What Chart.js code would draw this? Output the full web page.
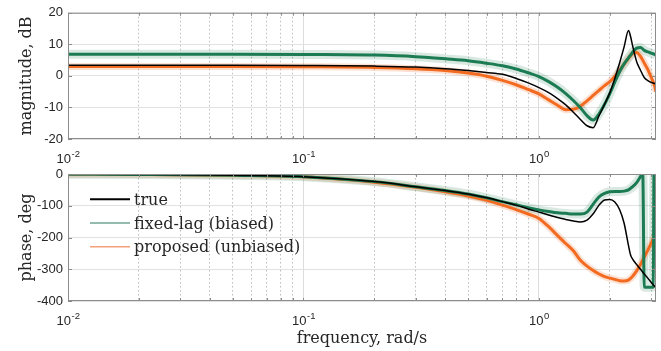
<!DOCTYPE html>
<html>
<head>
<meta charset="utf-8">
<script src="https://cdn.jsdelivr.net/npm/chart.js@4.4.1/dist/chart.umd.min.js"></script>
<style>
  html,body{margin:0;padding:0;background:#fff;}
  #wrap{position:relative;width:661px;height:351px;overflow:hidden;}
  canvas{position:absolute;left:0;}
  #magCanvas{top:0;}
  #phaseCanvas{top:160px;}
</style>
</head>
<body>
<div id="wrap">
  <canvas id="magCanvas" width="661" height="170"></canvas>
  <canvas id="phaseCanvas" width="661" height="191"></canvas>
</div>
<script>
/* ---------- values ---------- */
const freq = [0.01,0.02,0.05,0.1,0.2,0.3,0.4,0.5,0.6,0.7,0.8,0.9,1.0,1.1,1.2,1.3,1.4,1.5,1.6,1.7,1.8,1.9,2.0,2.1,2.2,2.3,2.4,2.45,2.5,2.6,2.7,2.8,2.9,3.0,3.1,3.14];

const magTrue     = [3.4,3.4,3.4,3.3,3.1,2.8,2.3,1.7,1.1,0.5,-0.8,-2.2,-3.7,-5.3,-7.2,-9.2,-11.5,-13.8,-15.8,-16.4,-12.6,-9.0,-5.3,-0.8,4.1,9.2,14.4,12.5,9.5,4.5,1.8,-0.5,-1.5,-2.1,-2.4,-2.5];
const magFixed    = [6.9,6.9,6.9,6.8,6.6,6.1,5.4,4.8,4.0,3.2,2.2,1.0,-0.2,-1.8,-3.6,-5.6,-7.8,-10.1,-12.6,-14.0,-12.0,-9.0,-5.6,-2.0,1.3,3.8,5.7,6.6,7.5,8.8,9.0,8.1,7.6,7.2,6.8,6.6];
const magProposed = [3.0,3.0,3.0,2.9,2.7,2.3,1.7,0.9,-0.1,-1.4,-2.8,-4.3,-5.7,-7.6,-9.3,-10.7,-10.6,-9.6,-7.9,-6.2,-4.6,-3.1,-1.8,-0.2,1.8,3.7,5.6,6.4,7.1,7.4,6.2,4.1,2.0,-0.5,-3.2,-5.0];

const phaseTrue     = [-0.8,-1.6,-4,-8.5,-24,-40,-52,-63,-75,-87,-98,-110,-120,-129,-137,-143,-148,-151,-145,-125,-98,-82,-80,-88,-112,-155,-225,-255,-268,-285,-300,-315,-328,-342,-354,-360];
const phaseProposed = [-0.8,-1.7,-4.3,-9,-26,-42,-56,-69,-83,-98,-112,-126,-140,-166,-194,-219,-242,-272,-290,-304,-315,-323,-328,-332,-336,-337,-334,-329,-322,-305,-285,-262,-240,-217,-193,-182];

// fixed-lag phase wraps twice near Nyquist, so it has its own frequency list
const fixedPhaseFreq = [0.01,0.02,0.05,0.1,0.2,0.3,0.4,0.5,0.6,0.7,0.8,0.9,1.0,1.1,1.2,1.3,1.4,1.5,1.6,1.7,1.8,1.9,2.0,2.1,2.2,2.3,2.4,2.5,2.6,2.7,2.76,2.8,2.9,3.0,3.06,3.08,3.14];
const phaseFixed     = [-0.8,-1.6,-4,-8.5,-24,-40,-52,-63,-75,-87,-97,-106,-113,-118,-122,-124,-126,-126,-120,-95,-72,-61,-56,-55,-55,-54,-50,-40,-27,-8,4,-356,-357,-357,-356,10,10];

const xTicks = [0.01,0.02,0.03,0.04,0.05,0.06,0.07,0.08,0.09,0.1,0.2,0.3,0.4,0.5,0.6,0.7,0.8,0.9,1,2,3];
const decadeTicks = [0.01,0.1,1];
const decadeExps  = ['-2','-1','0'];
const legendLabels = ['true','fixed-lag (biased)','proposed (unbiased)'];

/* ---------- styling ---------- */
const GREEN = '#1b7b53', GREEN_BAND = 'rgba(27,123,83,0.17)';
const ORANGE = '#f26b21', ORANGE_BAND = 'rgba(242,107,33,0.2)';
const TXT = '#262626', FRAME = '#8c8c8c';
const SANS = '"Liberation Sans", Arial, sans-serif';
const SERIF = '"DejaVu Serif", serif';
const X_MIN = 0.01, X_MAX = Math.PI;

const pts = (xs, ys) => xs.map((x,i)=>({x, y:ys[i]}));
const line = (data, color, width) => ({data, borderColor:color, borderWidth:width, pointRadius:0, fill:false,
  cubicInterpolationMode:'monotone', clip:0, borderJoinStyle:'round'});
const isDecade = v => v != null && Math.abs(Math.log10(v) - Math.round(Math.log10(v))) < 1e-9;

function xAxes(h, title){
  const setTicks = s => { s.ticks = xTicks.map(v=>({value:v})); };
  return {
    x: { type:'logarithmic', min:X_MIN, max:X_MAX, position:'bottom',
      afterBuildTicks:setTicks, afterFit: s => { s.height = h; },
      ticks:{display:false},
      grid:{drawTicks:false, color: c => isDecade(c.tick && c.tick.value) ? '#dcdcdc' : 'rgba(0,0,0,0)'},
      border:{display:false},
      title: title ? {display:true, text:title, color:TXT, font:{family:SERIF, size:16}, padding:{top:0,bottom:3}} : {display:false}
    },
    xm: { type:'logarithmic', min:X_MIN, max:X_MAX, position:'bottom',
      afterBuildTicks:setTicks, afterFit: s => { s.height = 0; },
      ticks:{display:false},
      grid:{drawTicks:false, color: c => isDecade(c.tick && c.tick.value) ? 'rgba(0,0,0,0)' : '#bdbdbd'},
      border:{display:false, dash:[1.5,2.5]}
    }
  };
}

function yAxis(min, max, step, title){
  return { min, max, afterFit: s => { s.width = 68; },
    ticks:{stepSize:step, color:TXT, padding:5, font:{family:SANS, size:13}},
    grid:{drawTicks:false, color:'#e2e2e2'}, border:{display:false},
    title:{display:true, text:title, color:TXT, font:{family:SERIF, size:16}, padding:{top:17,bottom:0}} };
}

// axes box, inward tick marks, 10^n labels
const framePlugin = {
  id:'frame',
  afterDatasetsDraw(chart){
    const {ctx, chartArea:a, scales} = chart;
    ctx.save();
    ctx.strokeStyle = FRAME; ctx.lineWidth = 1;
    ctx.strokeRect(a.left+0.5, a.top+0.5, a.width-1, a.height-1);
    ctx.beginPath();
    xTicks.forEach(v => {
      const x = Math.round(scales.x.getPixelForValue(v)) + 0.5;
      ctx.moveTo(x, a.bottom); ctx.lineTo(x, a.bottom-3);
      ctx.moveTo(x, a.top); ctx.lineTo(x, a.top+3);
    });
    scales.y.ticks.forEach(t => {
      const y = Math.round(scales.y.getPixelForValue(t.value)) + 0.5;
      ctx.moveTo(a.left, y); ctx.lineTo(a.left+4, y);
      ctx.moveTo(a.right, y); ctx.lineTo(a.right-4, y);
    });
    ctx.stroke();
    ctx.fillStyle = TXT; ctx.textBaseline = 'alphabetic'; ctx.textAlign = 'left';
    decadeTicks.forEach((v,i) => {
      const x = scales.x.getPixelForValue(v);
      ctx.font = '13px ' + SANS; const w1 = ctx.measureText('10').width;
      ctx.font = '9.5px ' + SANS; const w2 = ctx.measureText(decadeExps[i]).width;
      const x0 = x - (w1+w2)/2, base = a.bottom + 24.3;
      ctx.font = '13px ' + SANS; ctx.fillText('10', x0, base);
      ctx.font = '9.5px ' + SANS; ctx.fillText(decadeExps[i], x0 + w1 + 0.5, base - 6.8);
    });
    ctx.restore();
  }
};

const legendStyle = [{c:'#000000', w:2}, {c:'#2a7a5e', w:1}, {c:'#f6a27c', w:1.6}];
const legendPlugin = {
  id:'inLegend',
  afterDraw(chart){
    const {ctx, chartArea:a} = chart;
    ctx.save();
    ctx.font = '16px ' + SERIF; ctx.fillStyle = TXT; ctx.textBaseline = 'alphabetic';
    legendLabels.forEach((lbl,i) => {
      const y = a.top + 25.3 + i*23.7;
      ctx.strokeStyle = legendStyle[i].c; ctx.lineWidth = legendStyle[i].w;
      ctx.beginPath(); ctx.moveTo(a.left+22, y); ctx.lineTo(a.left+62, y); ctx.stroke();
      ctx.fillText(lbl, a.left+66, y+5.6);
    });
    ctx.restore();
  }
};

const baseOpts = (scales, padTop) => ({
  responsive:false, animation:false, parsing:true,
  layout:{padding:{top:padTop, right:5, left:0, bottom:0}},
  plugins:{legend:{display:false}, tooltip:{enabled:false}},
  scales
});

new Chart(document.getElementById('magCanvas'), {
  type:'line',
  data:{ datasets:[
    line(pts(freq, magTrue), '#000000', 1.5),
    line(pts(freq, magFixed), GREEN, 3),
    line(pts(freq, magProposed), ORANGE, 3),
    line(pts(freq, magFixed), GREEN_BAND, 9),
    line(pts(freq, magProposed), ORANGE_BAND, 7)
  ]},
  options: baseOpts(Object.assign(xAxes(31, null), {y: yAxis(-20, 20, 10, 'magnitude, dB')}), 12),
  plugins:[framePlugin]
});

new Chart(document.getElementById('phaseCanvas'), {
  type:'line',
  data:{ datasets:[
    line(pts(freq, phaseTrue), '#000000', 1.5),
    line(pts(fixedPhaseFreq, phaseFixed), GREEN, 3),
    line(pts(freq, phaseProposed), ORANGE, 3),
    line(pts(fixedPhaseFreq, phaseFixed), GREEN_BAND, 9),
    line(pts(freq, phaseProposed), ORANGE_BAND, 7)
  ]},
  options: baseOpts(Object.assign(xAxes(50, 'frequency, rad/s'), {y: yAxis(-400, 0, 100, 'phase, deg')}), 14),
  plugins:[framePlugin, legendPlugin]
});
</script>
</body>
</html>
